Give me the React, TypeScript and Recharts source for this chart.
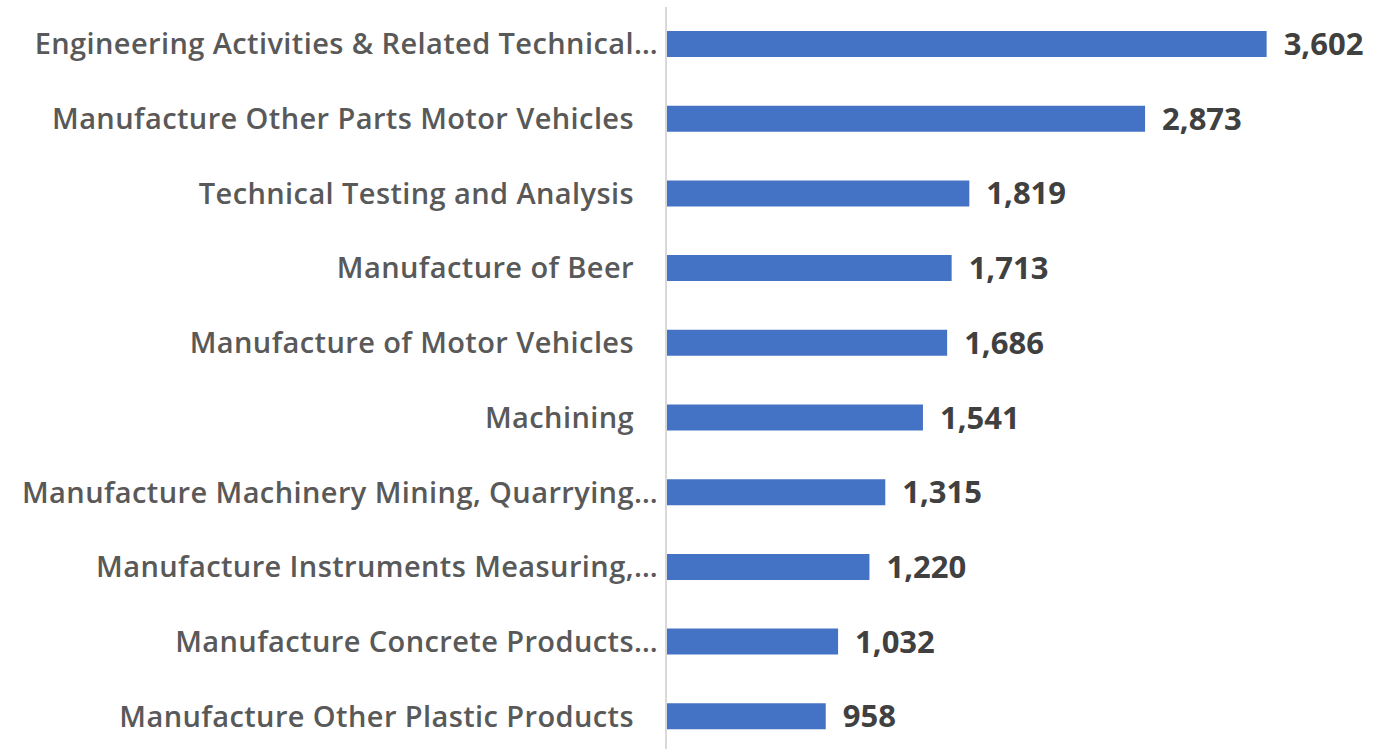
import { BarChart, Bar, XAxis, YAxis, LabelList } from 'recharts'

const categories = [
  'Engineering Activities & Related Technical…',
  'Manufacture Other Parts Motor Vehicles',
  'Technical Testing and Analysis',
  'Manufacture of Beer',
  'Manufacture of Motor Vehicles',
  'Machining',
  'Manufacture Machinery Mining, Quarrying…',
  'Manufacture Instruments Measuring,…',
  'Manufacture Concrete Products…',
  'Manufacture Other Plastic Products',
]

const values = [3602, 2873, 1819, 1713, 1686, 1541, 1315, 1220, 1032, 958]

const data = categories.map((name, i) => ({ name, value: values[i] }))

const FONT = '"Open Sans", sans-serif'

// Excel-style tick: truncated labels sit flush to the axis, full ones keep a small gap
function CategoryTick(props: any) {
  const { x, y, payload } = props
  const label: string = payload.value
  const truncated = label.endsWith('…')
  return (
    <text
      x={truncated ? x : x - 24}
      y={y}
      dy={10}
      textAnchor="end"
      fill="#595959"
      fontFamily={FONT}
      fontWeight={600}
      fontSize={29}
      letterSpacing={0.4}
    >
      {label}
    </text>
  )
}

export default function App() {
  return (
    <div style={{ position: 'absolute', left: 0, top: 0, width: 1396, height: 749, overflow: 'hidden', background: '#fff' }}>
      <BarChart
        width={1396}
        height={754}
        data={data}
        layout="vertical"
        margin={{ top: 7, right: 63, bottom: 0, left: 0 }}
        barSize={26}
      >
        <XAxis type="number" domain={[0, 4000]} hide />
        <YAxis
          type="category"
          dataKey="name"
          width={666}
          axisLine={{ stroke: '#d9d9d9', strokeWidth: 2 }}
          tickLine={false}
          tick={<CategoryTick />}
          interval={0}
        />
        <Bar dataKey="value" fill="#4472c4" isAnimationActive={false}>
          <LabelList
            dataKey="value"
            position="right"
            offset={17}
            formatter={(v: any) => Number(v).toLocaleString('en-US')}
            style={{ fill: '#404040', fontFamily: FONT, fontWeight: 700, fontSize: 31 }}
          />
        </Bar>
      </BarChart>
    </div>
  )
}
